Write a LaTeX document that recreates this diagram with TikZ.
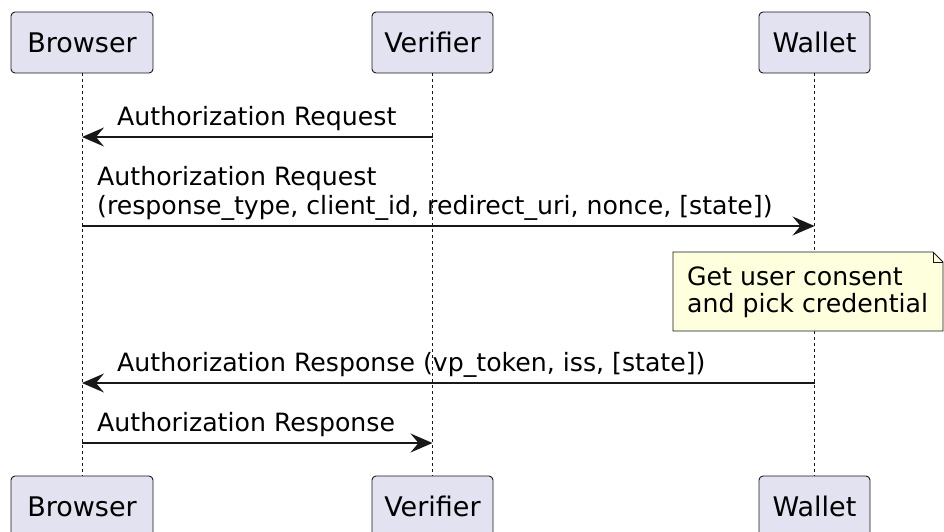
\documentclass[tikz,border=0pt]{standalone}
\usepackage{fontspec}
\setmainfont{DejaVu Sans}
\usetikzlibrary{arrows.meta}

\definecolor{partfill}{HTML}{E2E2F0}
\definecolor{partline}{HTML}{181818}
\definecolor{notefill}{HTML}{FEFFDD}
\definecolor{inkline}{HTML}{181818}

\begin{document}
\begin{tikzpicture}[x=1pt, y=-1pt,
  participant/.style={draw=partline, fill=partfill, line width=0.9pt,
    rounded corners=4pt, minimum height=61pt, inner sep=0pt,
    font=\fontsize{27}{32}\selectfont},
  lifeline/.style={draw=inkline, line width=0.9pt, dash pattern=on 3pt off 3pt},
  message/.style={draw=inkline, line width=1.6pt,
    -{Stealth[length=22pt, width=19pt, inset=8pt]}},
  msglabel/.style={anchor=base west, inner sep=0pt,
    font=\fontsize{25.2}{29}\selectfont},
  notebox/.style={draw=partline, fill=notefill, line width=0.8pt},
  notetext/.style={anchor=base west, inner sep=0pt,
    font=\fontsize{25.2}{27}\selectfont}
]
\useasboundingbox (0,0) rectangle (944,531);
\clip (0,0) rectangle (944,531);
\fill[white] (0,0) rectangle (944,531);

% participants, head and foot
\node[participant, minimum width=142pt] (bTop) at (82,42.5) {Browser};
\node[participant, minimum width=121pt] (vTop) at (432.5,42.5) {Verifier};
\node[participant, minimum width=111pt] (wTop) at (814.5,42.5) {Wallet};
\node[participant, minimum width=142pt] (bBot) at (82,506.5) {Browser};
\node[participant, minimum width=121pt] (vBot) at (432.5,506.5) {Verifier};
\node[participant, minimum width=111pt] (wBot) at (814.5,506.5) {Wallet};

% lifelines
\draw[lifeline] (bTop.south) -- (bBot.north);
\draw[lifeline] (vTop.south) -- (vBot.north);
\draw[lifeline] (wTop.south) -- (wBot.north);

% message end points on the lifelines
\coordinate (m1v) at (vTop.south |- 0,137);
\coordinate (m1b) at (bTop.south |- 0,137);
\coordinate (m2b) at (bTop.south |- 0,226);
\coordinate (m2w) at (wTop.south |- 0,226);
\coordinate (m3w) at (wTop.south |- 0,383);
\coordinate (m3b) at (bTop.south |- 0,383);
\coordinate (m4b) at (bTop.south |- 0,443);
\coordinate (m4v) at (vTop.south |- 0,443);

% messages
\draw[message] (m1v) -- (m1b);
\node[msglabel] (l1) at (117,125) {Authorization Request};

\draw[message] (m2b) -- (m2w);
\node[msglabel] (l2) at (97,185) {\vtop{\baselineskip=29pt
  \hbox{Authorization Request}
  \hbox{(response\_type, client\_id, redirect\_uri, nonce, [state])}}};

% note on the wallet
\draw[notebox] (673,252) -- (933,252) -- (943,262) -- (943,331) -- (673,331) -- cycle;
\draw[notebox, fill=none] (933,252) -- (933,262) -- (943,262);
\node[notetext] (note) at (687,285) {\vtop{\baselineskip=27pt
  \hbox{Get user consent}
  \hbox{and pick credential}}};

\draw[message] (m3w) -- (m3b);
\node[msglabel] (l3) at (117,371) {Authorization Response (vp\_token, iss, [state])};

\draw[message] (m4b) -- (m4v);
\node[msglabel] (l4) at (97,431) {Authorization Response};
\end{tikzpicture}
\end{document}
